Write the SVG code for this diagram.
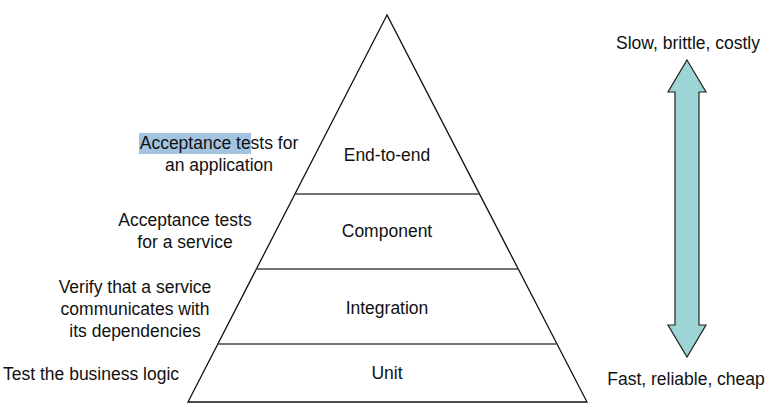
<svg xmlns="http://www.w3.org/2000/svg" width="768" height="410" viewBox="0 0 768 410">
<style>
text{font-family:"Liberation Sans",Arial,sans-serif;font-size:17.5px;fill:#111;}
.c{text-anchor:middle;}
.band{fill:#fff;stroke:#111;stroke-width:1.3;}
.sep{stroke:#444;stroke-width:1.5;}
</style>
<rect width="768" height="410" fill="#fff"/>
<g id="pyramid">
<polygon class="band" points="387,15 188,402 587,402"/>
</g>
<g id="connectors">
<line class="sep" x1="294.7" y1="194" x2="479.3" y2="194"/>
<line class="sep" x1="256" y1="269" x2="518" y2="269"/>
<line class="sep" x1="217.4" y1="344" x2="556.6" y2="344"/>
</g>
<g id="end-to-end"><text class="c" x="387" y="161">End-to-end</text></g>
<g id="component"><text class="c" x="387" y="237">Component</text></g>
<g id="integration"><text class="c" x="387" y="314">Integration</text></g>
<g id="unit"><text class="c" x="387" y="379">Unit</text></g>
<g id="label-e2e">
<rect x="139" y="133" width="112" height="21" fill="#a2c4e0"/>
<text class="c" x="219" y="149">Acceptance tests for</text>
<text class="c" x="219" y="171">an application</text>
</g>
<g id="label-component">
<text class="c" x="185" y="226">Acceptance tests</text>
<text class="c" x="185" y="248">for a service</text>
</g>
<g id="label-integration">
<text class="c" x="135" y="293">Verify that a service</text>
<text class="c" x="135" y="315">communicates with</text>
<text class="c" x="135" y="337">its dependencies</text>
</g>
<g id="label-unit"><text x="3" y="380">Test the business logic</text></g>
<g id="arrow">
<polygon points="687,60 706,92 699,92 699,325 706,325 687,357 668,325 675,325 675,92 668,92" fill="#9dd5d6" stroke="#222" stroke-width="1.2" stroke-linejoin="miter"/>
</g>
<g id="label-top"><text class="c" x="688" y="49">Slow, brittle, costly</text></g>
<g id="label-bottom"><text class="c" x="686" y="385">Fast, reliable, cheap</text></g>
</svg>
